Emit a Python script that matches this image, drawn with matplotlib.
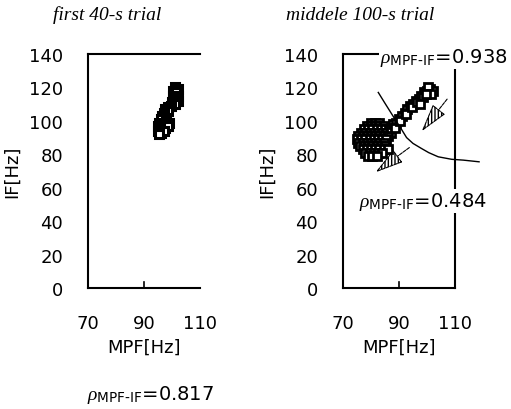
import numpy as np
import matplotlib.pyplot as plt
from matplotlib.patches import FancyArrowPatch

# first 40-s trial (MPF, IF)
mpf_first = [101.0, 102.0, 100.5, 101.5, 102.0, 100.5, 101.0, 102.0, 100.0, 101.0,
             99.5, 98.5, 97.5, 98.5, 97.0, 96.5, 97.5, 96.0, 98.0, 99.0,
             97.0, 95.5, 95.0, 96.0, 97.5, 98.5, 95.0, 96.0, 97.0, 95.5]
if_first = [120, 119, 118, 117, 115, 115, 113, 112, 111, 110,
            109, 108, 107, 106, 105, 103, 102, 101, 100, 99,
            98, 99, 97, 96, 96, 97, 94, 93, 94, 92]

# middle 100-s trial (MPF, IF): dense blob ...
mpf_mid = [80, 81.5, 83,
           78.5, 80, 81.5, 83, 84.5,
           77.5, 79, 80.5, 82, 83.5, 85, 86.5,
           76.5, 78, 79.5, 81, 82.5, 84, 85.5, 87,
           75.5, 77, 78.5, 80, 81.5, 83, 84.5, 86,
           75, 76.5, 78, 79.5, 81, 82.5, 84, 85.5,
           75.5, 77, 78.5, 80, 81.5, 83, 84.5,
           76, 77.5, 79, 80.5, 82, 83.5, 85,
           77, 78.5, 80, 81.5, 83, 84.5, 86,
           78, 79.5, 81, 82.5, 84,
           79, 80.5, 82,
           # ... and the chain toward high IF
           87, 88, 89, 90, 91, 92, 93, 94, 95, 96, 97, 98, 99, 100, 101, 102,
           88.5, 90.5, 92.5, 94.5, 96.5, 98.5, 100.5, 101.5, 99.5, 97.5]
if_mid = [99, 99, 99,
          97, 97, 97, 97, 97,
          95, 95, 95, 95, 95, 95, 95,
          93, 93, 93, 93, 93, 93, 93, 93,
          91, 91, 91, 91, 91, 91, 91, 91,
          89, 89, 89, 89, 89, 89, 89, 89,
          87, 87, 87, 87, 87, 87, 87,
          85, 85, 85, 85, 85, 85, 85,
          83, 83, 83, 83, 83, 83, 83,
          81, 81, 81, 81, 81,
          79, 79, 79,
          96, 98, 99, 101, 103, 105, 107, 109, 110, 112, 113, 115, 117, 118, 119, 118,
          96, 100, 104, 108, 111, 114, 120, 116, 116, 110]

# trend curve in middle trial
curve_mpf = [82.6, 85.0, 88.0, 90.5, 92.7, 95.0, 98.0, 100.6, 104.0, 108.8, 113.0, 118.6]
curve_if = [117, 110.5, 102.5, 96, 90, 86.5, 83.5, 81, 78.5, 77, 76.5, 75.5]

# principal directions (tail -> head)
arrows = [((107.8, 114.3), (97.5, 92.5)), ((94.5, 85.0), (80.8, 68.2))]

yticks = [0, 20, 40, 60, 80, 100, 120, 140]
xticks = [70, 90, 110]

plt.rcParams['font.family'] = ['DejaVu Sans']
plt.rcParams['mathtext.fontset'] = 'custom'
plt.rcParams['mathtext.it'] = 'Liberation Serif:italic'
plt.rcParams['mathtext.rm'] = 'DejaVu Sans'

W, H = 511, 410
fig = plt.figure(figsize=(W / 100, H / 100), dpi=100)


def box(x0, x1, y0, y1):
    return [x0 / W, 1 - y1 / H, (x1 - x0) / W, (y1 - y0) / H]


def style(ax):
    ax.set_xlim(70, 110)
    ax.set_ylim(0, 140)
    ax.set_yticks(yticks)
    ax.set_xticks(xticks)
    ax.tick_params(length=0, labelsize=13)
    ax.tick_params(axis='y', pad=18)
    ax.tick_params(axis='x', pad=19)
    for s in ax.spines.values():
        s.set_linewidth(1.5)
    ax.axvline(90, ymin=0, ymax=0.025, color='k', lw=1.2)
    ax.set_ylabel('IF[Hz]', fontsize=13, labelpad=6)
    ax.set_xlabel('MPF[Hz]', fontsize=13, labelpad=4)


ax1 = fig.add_axes(box(88, 200, 55, 289))
style(ax1)
ax1.spines['right'].set_visible(False)
ax1.plot(mpf_first, if_first, 's', ms=6, mfc='white', mec='black', mew=2.2)

ax2 = fig.add_axes(box(343, 455, 55, 289))
style(ax2)
ax2.plot(mpf_mid, if_mid, 's', ms=5.5, mfc='white', mec='black', mew=2.0)
ax2.plot(curve_mpf, curve_if, color='black', lw=1.0, clip_on=False)
for tail, head in arrows:
    ax2.add_patch(FancyArrowPatch(tail, head,
                                  arrowstyle='-|>,head_length=0.9,head_width=0.25',
                                  mutation_scale=20, lw=0.8, facecolor='white',
                                  edgecolor='black', hatch='|||||',
                                  linestyle=(0, (3, 1))))


def ftext(x, y, s, **kw):
    return fig.text(x / W, 1 - y / H, s, **kw)


ftext(107, 15, 'first 40-s trial', ha='center', va='center', fontsize=14,
      family='Liberation Serif', style='italic')
ftext(360, 15, 'middele 100-s trial', ha='center', va='center', fontsize=14,
      family='Liberation Serif', style='italic')

rho = r'$\rho_{\mathrm{MPF\text{-}IF}}$'
bb = dict(facecolor='white', edgecolor='none', pad=1)
ftext(444, 58, rho + '=0.938', ha='center', va='center', fontsize=14, bbox=bb)
ftext(423, 202, rho + '=0.484', ha='center', va='center', fontsize=14, bbox=bb)
ftext(150, 395, rho + '=0.817', ha='center', va='center', fontsize=14)

fig.savefig('out.png', dpi=100)
